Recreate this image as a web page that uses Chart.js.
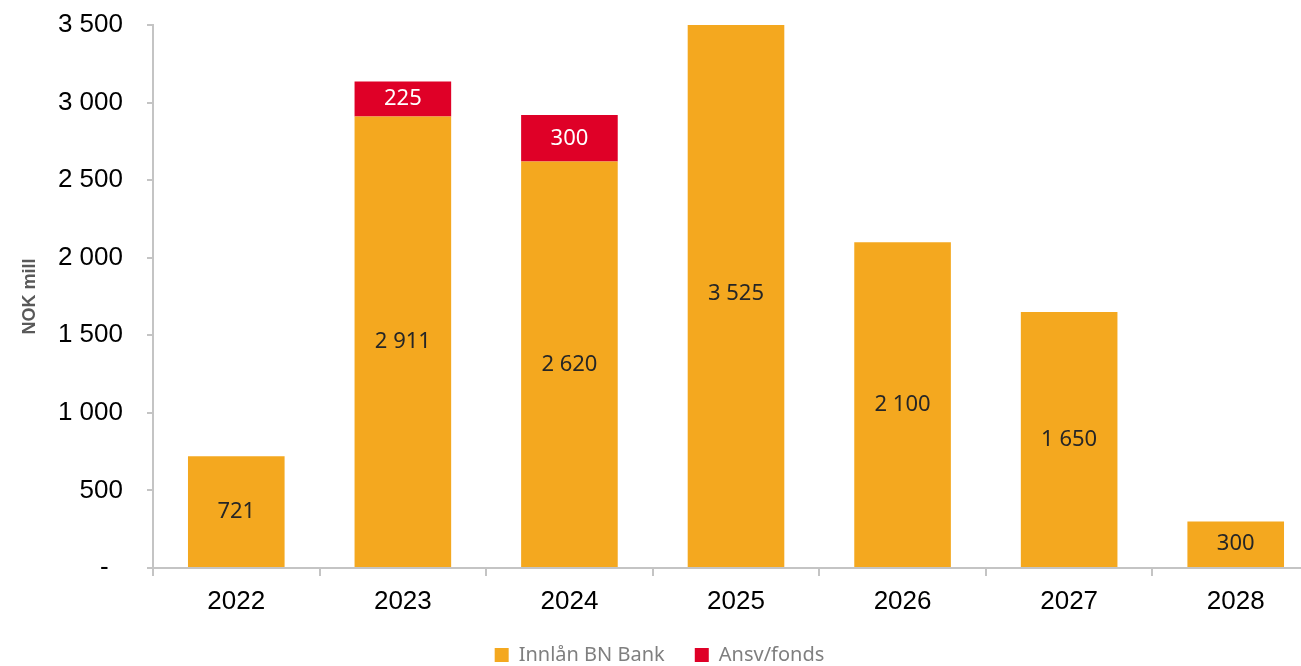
<!DOCTYPE html>
<html>
<head>
<meta charset="utf-8">
<script src="https://cdn.jsdelivr.net/npm/chart.js@4/dist/chart.umd.min.js"></script>
<style>
  html, body { margin: 0; padding: 0; background: #ffffff; overflow: hidden; }
  #wrap { width: 1320px; height: 666px; position: relative; }
</style>
</head>
<body>
<div id="wrap"><canvas id="c"></canvas></div>
<script>
const categories = ['2022', '2023', '2024', '2025', '2026', '2027', '2028'];
const innlanBNBank = [721, 2911, 2620, 3525, 2100, 1650, 300];
const ansvFonds = [null, 225, 300, null, null, null, null];
const yTickValues = [0, 500, 1000, 1500, 2000, 2500, 3000, 3500];
const seriesNames = ['Innlån BN Bank', 'Ansv/fonds'];
const yAxisTitle = 'NOK mill';

const COLOR_ORANGE = '#F4A81F';
const COLOR_RED = '#DF0027';
const AXIS_GRAY = '#C4C4C4';

function fmt(n) {
  return String(n).replace(/\B(?=(\d{3})+(?!\d))/g, ' ');
}

const barLabels = {
  id: 'barLabels',
  afterDatasetsDraw(chart) {
    const ctx = chart.ctx;
    ctx.save();
    ctx.font = '22px "Noto Sans"';
    ctx.textAlign = 'center';
    ctx.textBaseline = 'middle';
    chart.data.datasets.forEach((ds, di) => {
      const meta = chart.getDatasetMeta(di);
      meta.data.forEach((el, i) => {
        const v = ds.data[i];
        if (v === null || v === undefined) return;
        ctx.fillStyle = ds.labelColor;
        ctx.fillText(fmt(v), el.x, (el.y + el.base) / 2);
      });
    });
    ctx.restore();
  }
};

new Chart(document.getElementById('c'), {
  type: 'bar',
  data: {
    labels: categories,
    datasets: [
      { label: seriesNames[0], data: innlanBNBank, backgroundColor: COLOR_ORANGE, labelColor: '#262626',
        barPercentage: 0.58, categoryPercentage: 1.0 },
      { label: seriesNames[1], data: ansvFonds, backgroundColor: COLOR_RED, labelColor: '#ffffff',
        barPercentage: 0.58, categoryPercentage: 1.0 }
    ]
  },
  options: {
    responsive: true,
    maintainAspectRatio: false,
    animation: false,
    layout: { padding: { top: 25, right: 1, bottom: -9, left: 0 } },
    plugins: {
      tooltip: { enabled: false },
      legend: {
        position: 'bottom',
        labels: {
          boxWidth: 14, boxHeight: 14, padding: 30,
          color: '#7F7F7F',
          font: { family: '"Noto Sans"', size: 20 }
        }
      }
    },
    scales: {
      x: {
        stacked: true,
        grid: { display: true, drawOnChartArea: false, drawTicks: true, tickLength: 8, color: AXIS_GRAY, lineWidth: 2, offset: true },
        border: { display: true, color: AXIS_GRAY, width: 2 },
        ticks: { color: '#000000', padding: 10, font: { family: '"Liberation Sans", Arial', size: 26 }, maxRotation: 0 },
        afterFit(scale) { scale.height = 47; }
      },
      y: {
        stacked: true,
        min: 0,
        max: 3500,
        afterBuildTicks(scale) { scale.ticks = yTickValues.map(v => ({ value: v })); },
        grid: { display: true, drawOnChartArea: false, drawTicks: true, tickLength: 6, color: AXIS_GRAY, lineWidth: 2 },
        border: { display: true, color: AXIS_GRAY, width: 2 },
        ticks: {
          color: '#000000', padding: 24,
          font: { family: '"Liberation Sans", Arial', size: 26 },
          callback(v) { return v === 0 ? '-  ' : fmt(v); }
        },
        title: {
          display: true, text: yAxisTitle, color: '#595959',
          font: { family: '"Liberation Sans", Arial', size: 18, weight: 'bold' },
          padding: { top: 19, bottom: 0 }
        },
        afterFit(scale) { scale.width = 153; scale.paddingTop = 0; scale.paddingBottom = 0; }
      }
    }
  },
  plugins: [barLabels]
});
</script>
</body>
</html>
